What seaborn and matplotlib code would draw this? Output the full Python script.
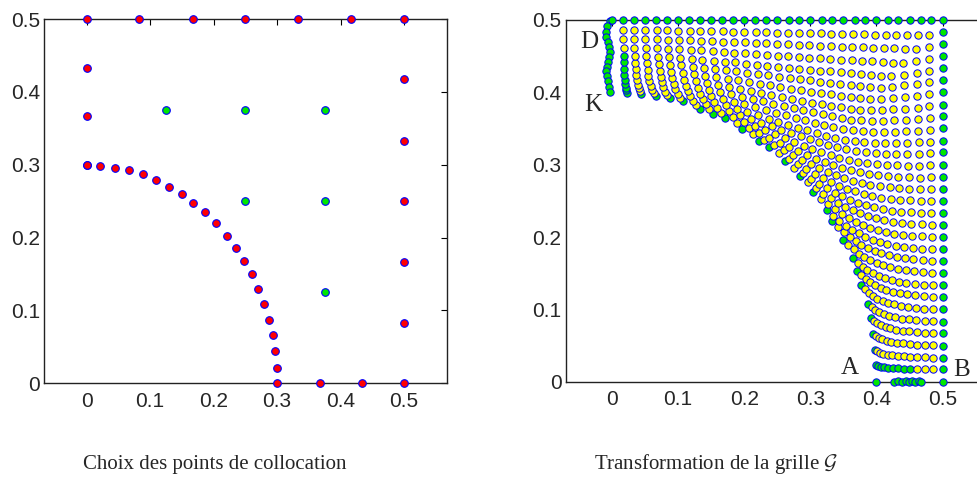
import numpy as np
import pandas as pd
import matplotlib
matplotlib.use("Agg")
import matplotlib.pyplot as plt
import seaborn as sns

# ---- left panel: collocation points ----
top_x = [0, 0.083, 0.167, 0.25, 0.333, 0.417, 0.5]
left_y = [0.433, 0.367, 0.3]
right_y = [0.417, 0.333, 0.25, 0.167, 0.083, 0.0]
bottom_x = [0.367, 0.433]
arc_x = [0, 0.0215, 0.0451, 0.0671, 0.0892, 0.1091, 0.1296, 0.1501, 0.1679, 0.1868, 0.2036,
         0.2204, 0.2351, 0.2482, 0.2603, 0.2698, 0.2797, 0.2871, 0.2928, 0.2965, 0.2992, 0.3]
arc_y = [0.3, 0.2985, 0.2958, 0.2926, 0.2867, 0.2789, 0.2693, 0.2597, 0.2478, 0.2345, 0.2194,
         0.2025, 0.186, 0.1673, 0.1495, 0.1289, 0.1083, 0.0873, 0.0663, 0.0443, 0.021, 0.0]
inner_x = [0.125, 0.25, 0.375, 0.25, 0.375, 0.375]
inner_y = [0.375, 0.375, 0.375, 0.25, 0.25, 0.125]

# ---- right panel: transformed grid ----
grid_pos = [0, 0.017, 0.033, 0.05, 0.067, 0.083, 0.1, 0.117, 0.133, 0.15, 0.167, 0.183, 0.2,
            0.217, 0.233, 0.25, 0.267, 0.283, 0.3, 0.317, 0.333, 0.35, 0.367, 0.383, 0.4,
            0.417, 0.433, 0.45, 0.467, 0.483, 0.5]
hole_before = 0.3
hole_after = 0.4
squeeze = 0.3   # share of the radial stretch that is linear, the rest is quadratic
dk_x = [-0.0035, -0.0076, -0.0095, -0.0085, -0.006, -0.0045, -0.0035, -0.0045, -0.006,
        -0.0076, -0.0085, -0.0076, -0.006, -0.0045, -0.0024]
dk_y = [0.498, 0.491, 0.484, 0.477, 0.47, 0.463, 0.456, 0.4495, 0.4426, 0.4357, 0.4288,
        0.4219, 0.415, 0.408, 0.4]
ab_x = [0.4, 0.427, 0.433, 0.439, 0.444, 0.449, 0.454, 0.459, 0.464, 0.468, 0.5]
ab_y = [0.0, 0.0, 0.001, 0.0, 0.001, 0.0, 0.001, 0.0, 0.001, 0.0, 0.0]

RED, GREEN, YELLOW, BLUE = "#ff0000", "#00e600", "#ffff00", "#0000ff"

left_pts = pd.DataFrame({
    "x": top_x + [0] * len(left_y) + [0.5] * len(right_y) + bottom_x + arc_x,
    "y": [0.5] * len(top_x) + left_y + right_y + [0] * len(bottom_x) + arc_y,
})
left_in = pd.DataFrame({"x": inner_x, "y": inner_y})

# grid of the square, keep points outside the hole, then push the hole out
gx, gy = np.meshgrid(grid_pos, grid_pos)
g = pd.DataFrame({"x": gx.ravel(), "y": gy.ravel()})
g = g[(g.x > 0) & (g.y > 0)]
g["r"] = np.hypot(g.x, g.y)
g = g[g.r >= hole_before - 1e-9].copy()
g["th"] = np.arctan2(g.y, g.x)
R = np.minimum(0.5 / np.maximum(np.cos(g.th), 1e-9), 0.5 / np.maximum(np.sin(g.th), 1e-9))
t = (g.r - hole_before) / (R - hole_before)
h = squeeze * t + (1 - squeeze) * t ** 2
r2 = hole_after + (R - hole_after) * h
g["xt"] = r2 * np.cos(g.th)
g["yt"] = r2 * np.sin(g.th)

edge = (g.x >= 0.5) | (g.y >= 0.5)
low_col = g.groupby("x").y.transform("min") == g.y
low_row = g.groupby("y").x.transform("min") == g.x
g["kind"] = np.where(edge | ((low_col | low_row) & (g.r < 0.45)), "green", "yellow")

green_pts = pd.concat([
    g.loc[g.kind == "green", ["xt", "yt"]],
    pd.DataFrame({"xt": dk_x, "yt": dk_y}),
    pd.DataFrame({"xt": ab_x, "yt": ab_y}),
    pd.DataFrame({"xt": [0.0], "yt": [0.5]}),
])
yellow_pts = g.loc[g.kind == "yellow", ["xt", "yt"]]

sns.set_style("white")
plt.rcParams["font.family"] = ["Liberation Sans", "DejaVu Sans"]
plt.rcParams["mathtext.fontset"] = "cm"

fig = plt.figure(figsize=(9.77, 4.84), dpi=100)
ax1 = fig.add_axes([0.045, 0.208, 0.4122, 0.7527])
ax2 = fig.add_axes([0.579, 0.2114, 0.4284, 0.7473])

sns.scatterplot(data=left_pts, x="x", y="y", ax=ax1, color=RED, edgecolor=BLUE,
                linewidth=0.8, s=30, zorder=3, clip_on=False)
sns.scatterplot(data=left_in, x="x", y="y", ax=ax1, color=GREEN, edgecolor=BLUE,
                linewidth=0.8, s=30, zorder=3, clip_on=False)

sns.scatterplot(data=green_pts, x="xt", y="yt", ax=ax2, color=GREEN, edgecolor=BLUE,
                linewidth=0.7, s=28, zorder=3, clip_on=False)
sns.scatterplot(data=yellow_pts, x="xt", y="yt", ax=ax2, color=YELLOW, edgecolor=BLUE,
                linewidth=0.7, s=28, zorder=4, clip_on=False)

for ax, xl in ((ax1, (-0.067, 0.567)), (ax2, (-0.07, 0.563))):
    ax.set_xlim(*xl)
    ax.set_ylim(0, 0.5)
    ax.set_xticks([0, 0.1, 0.2, 0.3, 0.4, 0.5])
    ax.set_xticklabels(["0", "0.1", "0.2", "0.3", "0.4", "0.5"])
    ax.set_yticks([0, 0.1, 0.2, 0.3, 0.4, 0.5])
    ax.set_yticklabels(["0", "0.1", "0.2", "0.3", "0.4", "0.5"])
    ax.set_xlabel("")
    ax.set_ylabel("")
    ax.tick_params(direction="in", length=4, width=0.8, labelsize=15, color="black",
                   top=True, right=True)
    ax.tick_params(axis="x", pad=6)
    ax.tick_params(axis="y", pad=3)
    for s in ax.spines.values():
        s.set_color("#222222")
        s.set_linewidth(1.0)

serif = ["Liberation Serif", "DejaVu Serif"]
ax2.text(-0.034, 0.47, "D", fontsize=18, family=serif, ha="center", va="center")
ax2.text(-0.029, 0.383, "K", fontsize=18, family=serif, ha="center", va="center")
ax2.text(0.36, 0.019, "A", fontsize=18, family=serif, ha="center", va="center")
ax2.text(0.5285, 0.016, "B", fontsize=18, family=serif, ha="center", va="center")

fig.text(0.22, 0.03, "Choix des points de collocation", fontsize=15, family=serif,
         ha="center", va="baseline")
fig.text(0.733, 0.03, r"Transformation de la grille $\mathcal{G}$", fontsize=15,
         family=serif, ha="center", va="baseline")

fig.savefig("out.png", dpi=100)
